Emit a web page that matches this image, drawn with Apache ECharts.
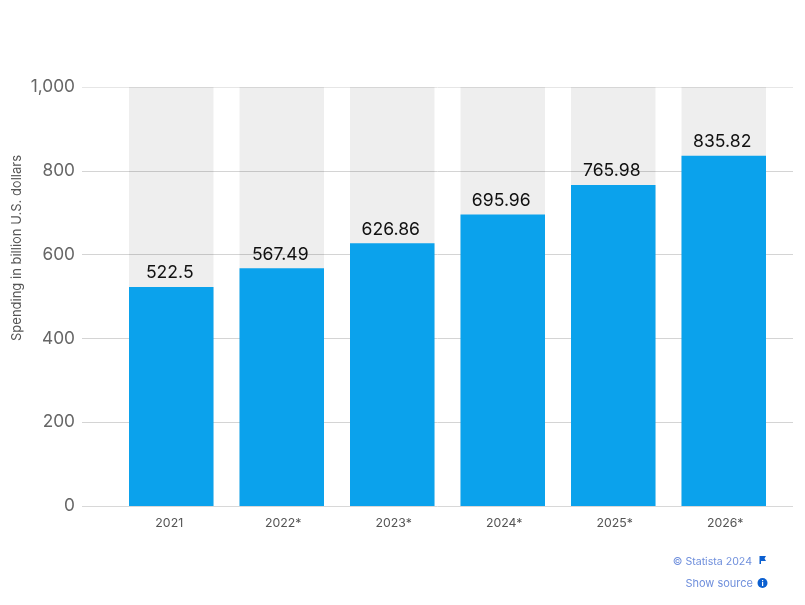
<!DOCTYPE html>
<html><head><meta charset="utf-8">
<style>html,body{margin:0;padding:0;background:#fff}#c{width:805px;height:605px}</style>
<script src="https://cdn.jsdelivr.net/npm/echarts@6/dist/echarts.min.js"></script>
</head><body><div id="c"></div>
<script>
const categories = ['2021','2022*','2023*','2024*','2025*','2026*'];
const spending = [522.5,567.49,626.86,695.96,765.98,835.82];
const yTicks = {min:0,max:1000,interval:200};
const yTitle = 'Spending in billion U.S. dollars';
const font = 'Inter, "Open Sans", sans-serif';
const chart = echarts.init(document.getElementById('c'),null,{renderer:'canvas'});
const xText = {color:'#555',fontSize:12.3,fontFamily:font};
chart.setOption({
  animation:false,
  backgroundColor:'#fff',
  grid:[
    {left:116,right:26,top:87,height:419},
    {left:82,right:12,top:87,height:419}
  ],
  xAxis:[
    {type:'category',gridIndex:0,data:categories,
     axisLine:{show:false},axisTick:{show:false},
     axisLabel:{...xText,margin:11,
       formatter:v=>v.endsWith('*')?`{s|${v}}`:`{p|${v}}`,
       rich:{s:{...xText,padding:[0,0,0,3]},p:{...xText,padding:[0,4,0,0]}}}},
    {type:'value',gridIndex:1,min:0,max:1,show:false}
  ],
  yAxis:[
    {type:'value',gridIndex:0,...yTicks,show:false},
    {type:'value',gridIndex:1,...yTicks,
     axisLine:{show:false},axisTick:{show:false},
     splitLine:{show:true,lineStyle:{color:['#d8d8d8','#d4d4d4','#d4d4d4','#d4d4d4','#d4d4d4','#e6e6e6'],width:1}},
     axisLabel:{color:'#666',fontSize:17.3,fontFamily:font,margin:7,padding:[0,0,4,0],
       formatter:v=>v.toLocaleString('en-US')}}
  ],
  series:[{
    type:'bar',xAxisIndex:0,yAxisIndex:0,data:spending,barWidth:84.5,
    itemStyle:{color:'#0ba2ec'},
    showBackground:true,backgroundStyle:{color:'rgba(0,0,0,0.068)'},
    label:{show:true,position:'top',distance:5,offset:[-1.5,0],color:'#111',fontSize:17.6,fontFamily:font,
      formatter:p=>String(p.value)}
  }],
  graphic:[
    {type:'text',x:17.5,y:248,rotation:Math.PI/2,style:{text:yTitle,fill:'#555',font:'13px '+font,align:'center',verticalAlign:'middle'}},
    {type:'text',right:53,top:556,style:{text:'© Statista 2024',fill:'#6f8fdc',font:'10.6px '+font}},
    {type:'text',right:52,top:578,style:{text:'Show source',fill:'#6f8fdc',font:'11px '+font}},
    {type:'polygon',shape:{points:[[759.5,556],[759.5,564],[761,564],[761,561],[766,561],[764.5,558.5],[766,556]]},style:{fill:'#0b5fd0'}},
    {type:'circle',shape:{cx:762.5,cy:583,r:5},style:{fill:'#0b5fd0'}},
    {type:'rect',shape:{x:762,y:582,width:1.2,height:4},style:{fill:'#fff'},z:10},
    {type:'rect',shape:{x:762,y:580,width:1.2,height:1.2},style:{fill:'#fff'},z:10}
  ]
});
</script></body></html>
